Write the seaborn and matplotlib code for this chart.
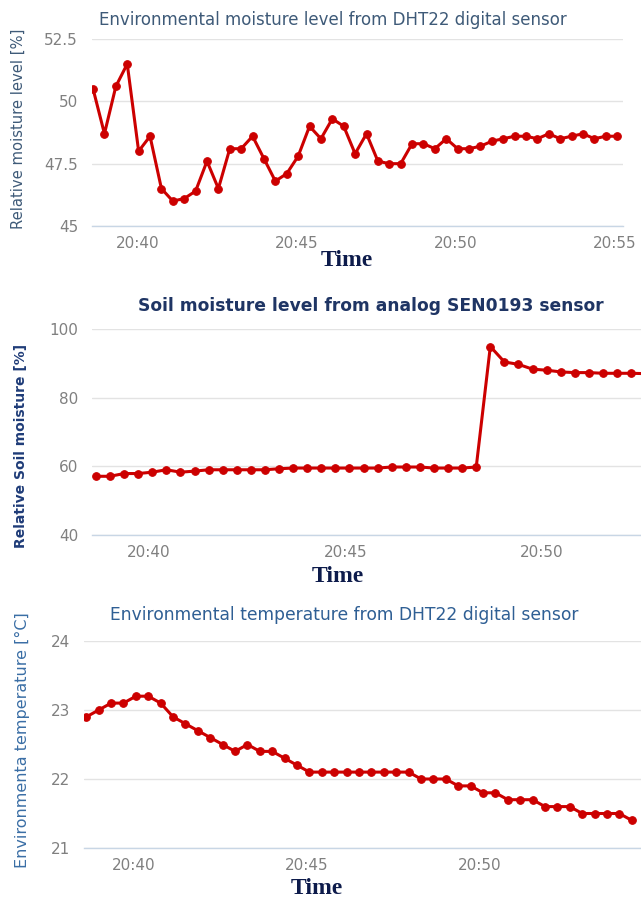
import pandas as pd
import seaborn as sns
import matplotlib.pyplot as plt
import matplotlib.dates as mdates

# readings, one sample about every 21.5 s
air_moisture = [50.5, 48.7, 50.6, 51.5, 48.0, 48.6, 46.5, 46.0, 46.1, 46.4,
                47.6, 46.5, 48.1, 48.1, 48.6, 47.7, 46.8, 47.1, 47.8, 49.0,
                48.5, 49.3, 49.0, 47.9, 48.7, 47.6, 47.5, 47.5, 48.3, 48.3,
                48.1, 48.5, 48.1, 48.1, 48.2, 48.4, 48.5, 48.6, 48.6, 48.5,
                48.7, 48.5, 48.6, 48.7, 48.5, 48.6, 48.6]
soil_moisture = [57.1, 57.1, 57.9, 57.9, 58.3, 59.0, 58.3, 58.6, 59.0, 59.0,
                 59.0, 59.0, 59.0, 59.3, 59.5, 59.5, 59.5, 59.5, 59.5, 59.5,
                 59.5, 59.8, 59.8, 59.8, 59.5, 59.5, 59.5, 59.8, 94.9, 90.4,
                 89.7, 88.3, 88.0, 87.5, 87.3, 87.3, 87.1, 87.1, 87.1, 87.0]
temperature = [22.9, 23.0, 23.1, 23.1, 23.2, 23.2, 23.1, 22.9, 22.8, 22.7,
               22.6, 22.5, 22.4, 22.5, 22.4, 22.4, 22.3, 22.2, 22.1, 22.1,
               22.1, 22.1, 22.1, 22.1, 22.1, 22.1, 22.1, 22.0, 22.0, 22.0,
               21.9, 21.9, 21.8, 21.8, 21.7, 21.7, 21.7, 21.6, 21.6, 21.6,
               21.5, 21.5, 21.5, 21.5, 21.4]

air_start = "2021-05-10 20:38:35"
soil_start = "2021-05-10 20:38:39"
temp_start = "2021-05-10 20:38:37"
sample_step = "21500ms"

RED = "#cc0000"
GRID = "#e3e3e3"
AXIS = "#c8d6e5"
TICK = "#808080"

sns.set_style("white")
plt.rcParams['font.family'] = ['DejaVu Sans']

fig = plt.figure(figsize=(6.41, 8.99), dpi=100)
W, H = 641, 899


def box(left, top, right, bottom):
    return [left / W, 1 - bottom / H, (right - left) / W, (bottom - top) / H]


def draw(rect, values, start, xlim, yticks, yticklabels):
    ax = fig.add_axes(rect)
    df = pd.DataFrame({
        "time": pd.date_range(start=start, periods=len(values), freq=sample_step),
        "value": values,
    })
    sns.lineplot(data=df, x="time", y="value", ax=ax, color=RED, lw=2.2,
                 marker="o", markersize=5.5, markeredgecolor=RED, clip_on=True)
    ax.set_xlim(pd.Timestamp(xlim[0]), pd.Timestamp(xlim[1]))
    ax.set_ylim(yticks[0], yticks[-1])
    ax.set_yticks(yticks)
    ax.set_yticklabels(yticklabels)
    ax.xaxis.set_major_locator(mdates.MinuteLocator(byminute=range(0, 60, 5)))
    ax.xaxis.set_major_formatter(mdates.DateFormatter("%H:%M"))
    ax.grid(axis="y", color=GRID, lw=1)
    for s in ["top", "right", "left"]:
        ax.spines[s].set_visible(False)
    ax.spines["bottom"].set_color(AXIS)
    ax.spines["bottom"].set_linewidth(1)
    ax.tick_params(axis="y", length=0, pad=10, labelsize=11, labelcolor=TICK)
    ax.tick_params(axis="x", length=4, color=AXIS, pad=3, labelsize=11,
                   labelcolor=TICK)
    ax.set_xlabel("")
    ax.set_ylabel("")
    return ax


# top chart
ax1 = draw(box(92, 39, 623, 226), air_moisture, air_start,
           ("2021-05-10 20:38:33", "2021-05-10 20:55:15"),
           [45, 47.5, 50, 52.5], ["45", "47.5", "50", "52.5"])
fig.text(333 / W, 1 - 20 / H, "Environmental moisture level from DHT22 digital sensor",
         ha="center", va="center", fontsize=12, color="#3e5a78")
ax1.set_ylabel("Relative moisture level [%]", fontsize=10.6, color="#3e5a78")
ax1.yaxis.set_label_coords(-0.125, 0.52)
fig.text(347 / W, 1 - 260 / H, "Time", ha="center", va="center",
         family="Liberation Serif", fontweight="bold", fontsize=17, color="#0d1b4b")

# middle chart
ax2 = draw(box(92, 329, 641, 535), soil_moisture, soil_start,
           ("2021-05-10 20:38:33", "2021-05-10 20:52:31"),
           [40, 60, 80, 100], ["40", "60", "80", "100"])
fig.text(371 / W, 1 - 306 / H, "Soil moisture level from analog SEN0193 sensor",
         ha="center", va="center", fontsize=12.3, fontweight="bold", color="#1f3564")
ax2.set_ylabel("Relative Soil moisture [%]", fontsize=10, fontweight="bold",
               color="#1f3c78")
ax2.yaxis.set_label_coords(-0.116, 0.43)
fig.text(338 / W, 1 - 577 / H, "Time", ha="center", va="center",
         family="Liberation Serif", fontweight="bold", fontsize=17, color="#0d1b4b")

# bottom chart
ax3 = draw(box(84, 641, 641, 848), temperature, temp_start,
           ("2021-05-10 20:38:33", "2021-05-10 20:54:39"),
           [21, 22, 23, 24], ["21", "22", "23", "24"])
fig.text(344 / W, 1 - 615 / H, "Environmental temperature from DHT22 digital sensor",
         ha="center", va="center", fontsize=12.3, color="#2f5f94")
ax3.set_ylabel("Environmenta temperature [°C]", fontsize=11.5, color="#3a6ea5")
ax3.yaxis.set_label_coords(-0.097, 0.52)
fig.text(317 / W, 1 - 888 / H, "Time", ha="center", va="center",
         family="Liberation Serif", fontweight="bold", fontsize=17, color="#0d1b4b")

fig.savefig("out.png", dpi=100, facecolor="white")
